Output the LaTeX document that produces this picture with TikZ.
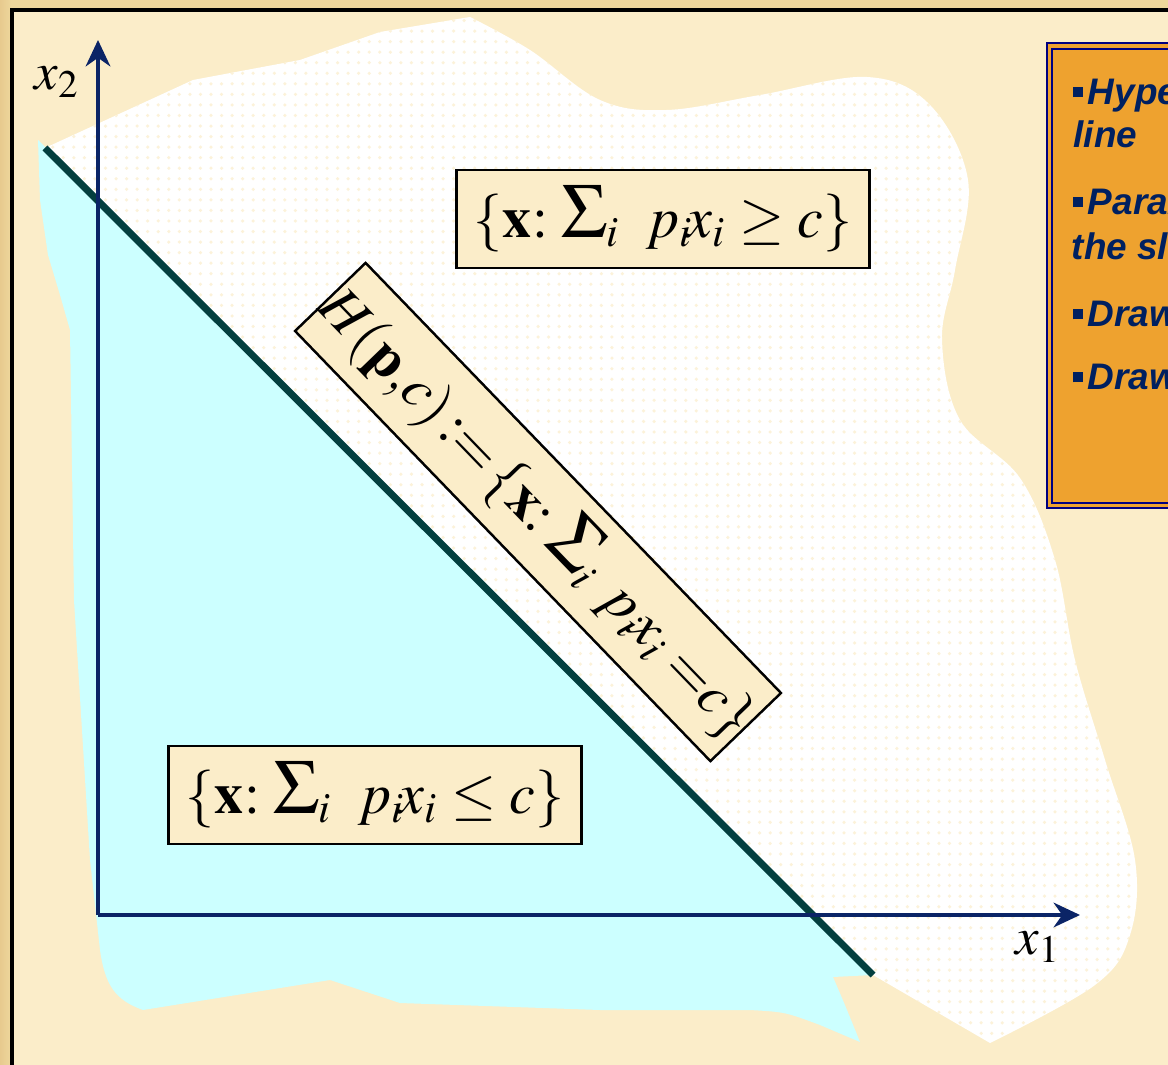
\documentclass[tikz,border=0pt]{standalone}
\usepackage{mathptmx}
\usepackage[no-math]{fontspec}
\newfontfamily\notefont{Liberation Sans}
\usetikzlibrary{arrows.meta,patterns}

\definecolor{cream}{HTML}{FBEDC9}
\definecolor{gold}{HTML}{EED79C}
\definecolor{lowcyan}{HTML}{CCFFFF}
\definecolor{axisblue}{HTML}{0B2466}
\definecolor{hypergreen}{HTML}{033F3F}
\definecolor{noteorange}{HTML}{EEA22F}
\definecolor{notenavy}{HTML}{002060}
\definecolor{rimnavy}{HTML}{000080}

\newcommand{\bigsig}{\mbox{\fontsize{22}{22}\selectfont$\Sigma$}}

\begin{document}
\begin{tikzpicture}[x=0.01cm,y=-0.01cm,
  setbox/.style={draw=black,line width=0.7pt,fill=cream,inner sep=0pt,
    minimum width=4.13cm,minimum height=0.98cm,font=\fontsize{16.5}{20}\selectfont},
  axis/.style={draw=axisblue,line width=1.15pt,-{Stealth[length=7.5pt,width=7pt]}},
  hyper/.style={draw=hypergreen,line width=2pt},
  axlabel/.style={inner sep=0pt,font=\fontsize{15}{18}\selectfont},
  note/.style={anchor=base west,inner sep=0pt,text=notenavy,
    font=\notefont\bfseries\itshape\fontsize{10.5}{12}\selectfont}]
\useasboundingbox (0,0) rectangle (1168,1065);
\clip (0,0) rectangle (1168,1065);

% slide background and frame
\fill[gold] (0,0) rectangle (1168,1065);
\shade[left color=gold!85!brown,right color=gold] (0,0) rectangle (11,1065);
\fill[cream] (12,10) rectangle (1200,1100);
\draw[line width=1.15pt] (12,10) rectangle (1200,1100);

% upper half space
\fill[white,postaction={pattern=dots,pattern color=cream!70!white}]
  (45,148) -- (193,80) -- (300,60) -- (380,32) -- (470,17)
  -- plot[smooth,tension=0.6] coordinates {(470,17) (530,50) (600,100) (667,110)
     (760,95) (867,77) (930,105) (968,180) (955,270) (942,340) (960,420)
     (1020,478) (1055,560) (1075,660) (1105,760) (1135,860) (1130,935)
     (1095,985) (990,1043)}
  -- (873,975) -- cycle;

% lower half space
\fill[lowcyan] (38,140) -- (873,975) -- (833,977) .. controls (845,1005) .. (860,1042)
  -- (820,1025) .. controls (785,1012) .. (750,1010) -- (600,1010) -- (400,1003)
  -- (330,980) -- (143,1010) .. controls (115,1000) and (105,985) .. (100,950)
  -- (90,860) -- (74,600) -- (70,330) -- (60,295) -- (48,255) -- (40,200) -- cycle;

% hyperplane
\coordinate (ltop) at (45,148);
\coordinate (lbot) at (873,975);
\draw[hyper] (ltop) -- (lbot);

% axes
\coordinate (o) at (98,915);
\coordinate (xtip) at (1080,915);
\coordinate (ytip) at (98,40);
\draw[axis] (o) -- (xtip);
\draw[axis] (o) -- (ytip);
\node[axlabel] (xlab) at (1038,947) {$x_1$};
\node[axlabel] (ylab) at (57,82) {$x_2$};

% the three sets
\node[setbox] (upper) at (663,219)
  {$\{\mathbf{x}\mathbf{:}\;\bigsig_i\;\; p_i\!x_i\geq c\}$};
\node[setbox] (lower) at (375,795)
  {$\{\mathbf{x}\mathbf{:}\;\bigsig_i\;\; p_i\!x_i\leq c\}$};
\node[setbox,rotate=-46,minimum width=5.96cm] (plane) at (538,512)
  {$H(\mathbf{p},\!c)\!:=\!\{\mathbf{x}\mathbf{:}\;\bigsig_i\;\, p_i\!x_i\;{=}c\}$};

% notes on the right
\fill[noteorange] (1047,43) rectangle (1200,508);
\draw[rimnavy,line width=0.5pt] (1047,43) rectangle (1200,508);
\draw[rimnavy,line width=0.5pt] (1052,49) rectangle (1200,503);
\newcommand{\notebullet}{\raisebox{2.2pt}{\rule{2.9pt}{2.9pt}}\hspace{1.4pt}}
\node[note] (hype) at (1072,105) {\notebullet Hyper};
\node[note] (line) at (1073,148) {line};
\node[note] (para) at (1072,215) {\notebullet Parall};
\node[note] (slope) at (1071,260) {the sl};
\node[note] (draw1) at (1072,327) {\notebullet Draw};
\node[note] (draw2) at (1072,390) {\notebullet Draw};
\end{tikzpicture}
\end{document}
